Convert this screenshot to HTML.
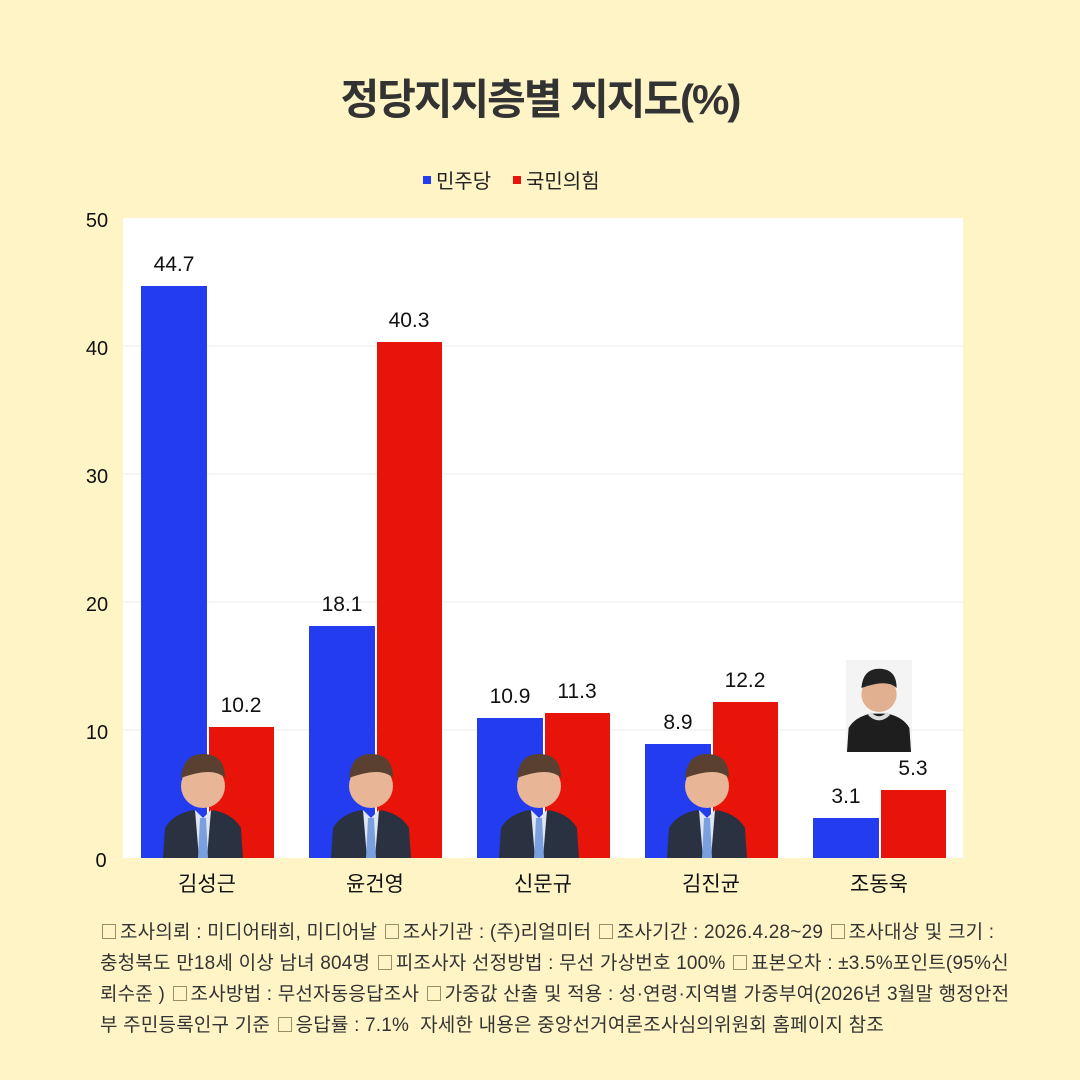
<!DOCTYPE html>
<html><head><meta charset="utf-8"><style>
body{margin:0;background:#fff4c6;}
svg text{font-family:"Liberation Sans","Noto Sans CJK KR",sans-serif;}
.ft{position:absolute;left:100px;top:917px;width:960px;font-family:"Liberation Sans","Noto Sans CJK KR",sans-serif;font-size:19px;line-height:31px;color:#333;letter-spacing:0.2px;white-space:nowrap;}
.b{display:inline-block;width:12px;height:13px;border:1px solid #9b8f6a;vertical-align:-1px;margin:0 4px 0 2px;}
</style></head><body>
<div style="position:relative;width:1080px;height:1080px;overflow:hidden">
<svg width="1080" height="1080" style="position:absolute;left:0;top:0">
<defs>
<g id="p">
<circle cx="0" cy="-72" r="22" fill="#e8b597"/>
<path d="M-22 -80 Q-20 -104 0 -104 Q22 -104 22 -80 Q10 -92 -22 -80Z" fill="#5a4030"/>
<path d="M-40 0 L-38 -30 Q-30 -44 -10 -48 L0 -40 L10 -48 Q30 -44 38 -30 L40 0Z" fill="#2a3140"/>
<path d="M-8 -48 L0 -40 L8 -48 L4 0 L-4 0Z" fill="#dfe6f0"/>
<path d="M-3 -40 L3 -40 L5 0 L-5 0Z" fill="#7aa0e0"/>
</g>
</defs>
<text x="540" y="114" text-anchor="middle" font-size="42" font-weight="bold" fill="#333" letter-spacing="-2">정당지지층별 지지도(%)</text>
<rect x="423" y="176" width="8" height="8" fill="#233cf0"/>
<text x="436" y="188" font-size="20" fill="#222">민주당</text>
<rect x="513" y="176" width="8" height="8" fill="#e8140a"/>
<text x="526" y="188" font-size="20" fill="#222">국민의힘</text>
<rect x="123" y="218" width="840" height="640" fill="#fff"/>
<g stroke="#ececec" stroke-width="1">
<line x1="123" x2="963" y1="346" y2="346"/><line x1="123" x2="963" y1="474" y2="474"/>
<line x1="123" x2="963" y1="602" y2="602"/><line x1="123" x2="963" y1="730" y2="730"/>
</g>
<g font-size="20" fill="#111" text-anchor="middle">
<text x="97" y="227">50</text><text x="97" y="355">40</text><text x="97" y="483">30</text>
<text x="97" y="611">20</text><text x="97" y="739">10</text><text x="101" y="867">0</text>
</g>
<g fill="#233cf0">
<rect x="141" y="286" width="66" height="572"/>
<rect x="309" y="626" width="66" height="232"/>
<rect x="477" y="718" width="66" height="140"/>
<rect x="645" y="744" width="66" height="114"/>
<rect x="813" y="818" width="66" height="40"/>
</g>
<g fill="#e8140a">
<rect x="209" y="727" width="65" height="131"/>
<rect x="377" y="342" width="65" height="516"/>
<rect x="545" y="713" width="65" height="145"/>
<rect x="713" y="702" width="65" height="156"/>
<rect x="881" y="790" width="65" height="68"/>
</g>
<g font-size="21" fill="#111" text-anchor="middle">
<text x="174" y="271">44.7</text><text x="241" y="712">10.2</text>
<text x="342" y="611">18.1</text><text x="409" y="327">40.3</text>
<text x="510" y="703">10.9</text><text x="577" y="698">11.3</text>
<text x="678" y="729">8.9</text><text x="745" y="687">12.2</text>
<text x="846" y="803">3.1</text><text x="913" y="775">5.3</text>
</g>
<use href="#p" x="203" y="858"/>
<use href="#p" x="371" y="858"/>
<use href="#p" x="539" y="858"/>
<use href="#p" x="707" y="858"/>
<rect x="846" y="660" width="66" height="92" fill="#f4f4f4"/>
<g transform="translate(879,752) scale(0.8)">
<circle cx="0" cy="-72" r="22" fill="#e0b090"/>
<path d="M-22 -80 Q-20 -104 0 -104 Q22 -104 22 -80 Q10 -92 -22 -80Z" fill="#222"/>
<path d="M-40 0 L-38 -30 Q-30 -44 -10 -48 L10 -48 Q30 -44 38 -30 L40 0Z" fill="#1e1e1e"/>
<path d="M-12 -48 Q0 -36 12 -48" stroke="#ddd" stroke-width="5" fill="none"/>
</g>
<g font-size="21" fill="#111" text-anchor="middle">
<text x="207" y="891">김성근</text><text x="375" y="891">윤건영</text><text x="543" y="891">신문규</text>
<text x="711" y="891">김진균</text><text x="879" y="891">조동욱</text>
</g>
</svg>
<div class="ft"><div><span class="b"></span>조사의뢰 : 미디어태희, 미디어날 <span class="b"></span>조사기관 : (주)리얼미터 <span class="b"></span>조사기간 : 2026.4.28~29 <span class="b"></span>조사대상 및 크기 :</div><div>충청북도 만18세 이상 남녀 804명 <span class="b"></span>피조사자 선정방법 : 무선 가상번호 100% <span class="b"></span>표본오차 : ±3.5%포인트(95%신</div><div>뢰수준 ) <span class="b"></span>조사방법 : 무선자동응답조사 <span class="b"></span>가중값 산출 및 적용 : 성·연령·지역별 가중부여(2026년 3월말 행정안전</div><div>부 주민등록인구 기준 <span class="b"></span>응답률 : 7.1%&nbsp; 자세한 내용은 중앙선거여론조사심의위원회 홈페이지 참조</div></div>
</div>
</body></html>
